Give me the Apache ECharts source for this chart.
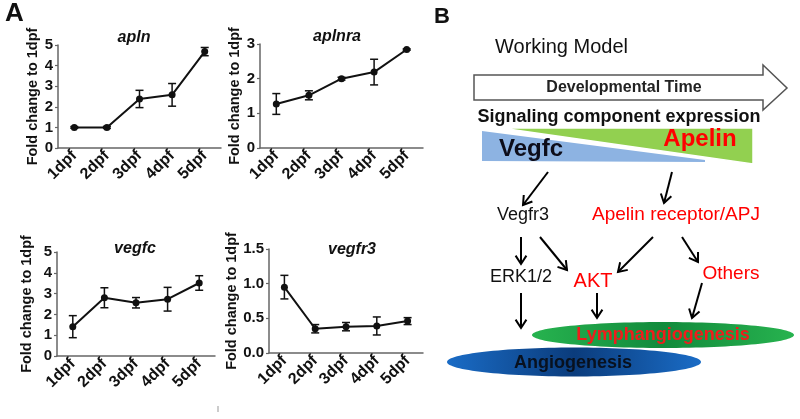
<!DOCTYPE html>
<html>
<head>
<meta charset="utf-8">
<script src="https://cdn.jsdelivr.net/npm/echarts@6/dist/echarts.min.js"></script>
<style>html,body{margin:0;padding:0;background:#fff;}#c{width:800px;height:419px;}</style>
</head>
<body>
<div id="c"></div>
<script>
// ---- data ----
const categories = ['1dpf', '2dpf', '3dpf', '4dpf', '5dpf'];
const aplnMean = [1.0, 1.0, 2.38, 2.58, 4.68];
const aplnErr = [0.04, 0.05, 0.42, 0.55, 0.2];
const aplnraMean = [1.27, 1.52, 2.0, 2.19, 2.84];
const aplnraErr = [0.3, 0.13, 0.04, 0.37, 0.02];
const vegfcMean = [1.41, 2.80, 2.56, 2.73, 3.51];
const vegfcErr = [0.53, 0.48, 0.25, 0.57, 0.35];
const vegfr3Mean = [0.95, 0.35, 0.38, 0.39, 0.46];
const vegfr3Err = [0.17, 0.06, 0.06, 0.13, 0.05];
const panelTitles = ['apln', 'aplnra', 'vegfc', 'vegfr3'];
const yMax = [5, 3, 5, 1.5];
const yStep = [1, 1, 1, 0.5];
const yAxisName = 'Fold change to 1dpf';

const FONT = "'Liberation Sans', Arial, sans-serif";
const chart = echarts.init(document.getElementById('c'), null, {renderer: 'canvas'});

const means = [aplnMean, aplnraMean, vegfcMean, vegfr3Mean];
const errs = [aplnErr, aplnraErr, vegfcErr, vegfr3Err];

const grids = [
  {left: 58, top: 45, width: 163, height: 103},
  {left: 260, top: 44, width: 163, height: 104},
  {left: 57, top: 252, width: 158, height: 104},
  {left: 269, top: 249, width: 154, height: 104}
];
const nameGaps = [13, 15, 23, 27];
const titlePos = [[134, 30], [337, 29], [135, 241], [352, 242]];

const axisColor = '#666';
const xAxes = [], yAxes = [], series = [], titles = [];
for (let i = 0; i < 4; i++) {
  xAxes.push({
    type: 'category', gridIndex: i, data: categories, boundaryGap: true,
    axisLine: {lineStyle: {color: axisColor, width: 1.5}},
    axisTick: {alignWithLabel: true, length: 3, lineStyle: {color: axisColor, width: 1.2}},
    axisLabel: {rotate: 45, margin: 5, color: '#111', fontFamily: FONT, fontWeight: 'bold', fontSize: 16, interval: 0},
    splitLine: {show: false}
  });
  yAxes.push({
    type: 'value', gridIndex: i, min: 0, max: yMax[i], interval: yStep[i],
    name: yAxisName, nameLocation: 'middle', nameRotate: 90, nameGap: nameGaps[i],
    nameTextStyle: {fontFamily: FONT, fontWeight: 'bold', fontSize: 14.5, color: '#111'},
    axisLine: {show: true, lineStyle: {color: axisColor, width: 1.5}},
    axisTick: {show: true, length: 3, lineStyle: {color: axisColor, width: 1.2}},
    axisLabel: {margin: 5, color: '#111', fontFamily: FONT, fontWeight: 'bold', fontSize: 15,
      formatter: yStep[i] < 1 ? (v => v.toFixed(1)) : (v => String(v))},
    splitLine: {show: false}
  });
  series.push({
    type: 'line', xAxisIndex: i, yAxisIndex: i, data: means[i],
    symbol: 'circle', symbolSize: 7, itemStyle: {color: '#111'},
    lineStyle: {color: '#111', width: 2}, z: 3, animation: false
  });
  series.push({
    type: 'custom', xAxisIndex: i, yAxisIndex: i,
    data: means[i].map((m, k) => [k, m - errs[i][k], m + errs[i][k]]),
    renderItem: function (params, api) {
      const x = api.value(0);
      const lo = api.coord([x, api.value(1)]);
      const hi = api.coord([x, api.value(2)]);
      const w = 4;
      const st = {stroke: '#111', lineWidth: 1.5};
      return {type: 'group', children: [
        {type: 'line', shape: {x1: lo[0], y1: lo[1], x2: hi[0], y2: hi[1]}, style: st},
        {type: 'line', shape: {x1: lo[0] - w, y1: lo[1], x2: lo[0] + w, y2: lo[1]}, style: st},
        {type: 'line', shape: {x1: hi[0] - w, y1: hi[1], x2: hi[0] + w, y2: hi[1]}, style: st}
      ]};
    },
    z: 4, animation: false
  });
  titles.push({
    text: panelTitles[i], left: titlePos[i][0], top: titlePos[i][1], textAlign: 'center', padding: 0,
    textStyle: {fontFamily: FONT, fontStyle: 'italic', fontWeight: 'bold', fontSize: 16, color: '#111'}
  });
}

// ---- diagram helpers ----
function txt(text, x, y, size, opts) {
  opts = opts || {};
  return {type: 'text', z: 20, style: {
    text: text, x: x, y: y,
    font: (opts.italic ? 'italic ' : '') + (opts.bold ? 'bold ' : '') + size + 'px ' + FONT,
    fill: opts.color || '#111',
    align: opts.align || 'center', verticalAlign: 'middle',
    textAlign: opts.align || 'center', textVerticalAlign: 'middle'
  }};
}
function arrow(x1, y1, x2, y2) {
  const a = Math.atan2(y2 - y1, x2 - x1), L = 10, s = Math.PI / 5.5;
  return {type: 'group', z: 15, children: [
    {type: 'line', shape: {x1: x1, y1: y1, x2: x2, y2: y2}, style: {stroke: '#000', lineWidth: 2}},
    {type: 'polyline', shape: {points: [
      [x2 - L * Math.cos(a - s), y2 - L * Math.sin(a - s)], [x2, y2],
      [x2 - L * Math.cos(a + s), y2 - L * Math.sin(a + s)]]},
      style: {stroke: '#000', lineWidth: 2, fill: null}}
  ]};
}
const RED = '#f00';
const graphics = [
  txt('A', 5, 14, 26, {bold: true, align: 'left'}),
  txt('B', 434, 17, 22, {bold: true, align: 'left'}),
  txt('Working Model', 495, 47, 20, {align: 'left'}),
  {type: 'polygon', z: 10, shape: {points: [[474, 75], [763, 75], [763, 65], [787, 88], [763, 110], [763, 100], [474, 100]]},
    style: {fill: '#fff', stroke: '#555', lineWidth: 1.5}},
  txt('Developmental Time', 624, 88, 16, {bold: true, color: '#222'}),
  txt('Signaling component expression', 619, 117, 18, {bold: true}),
  {type: 'polygon', z: 10, shape: {points: [[482, 131], [705, 160], [705, 162], [482, 161]]},
    style: {fill: '#8db3e2'}},
  {type: 'polygon', z: 11, shape: {points: [[501, 128], [753, 128], [753, 164]]},
    style: {fill: '#92d050', stroke: '#fff', lineWidth: 1.5}},
  txt('Vegfc', 531, 149, 24, {bold: true, color: '#0d0d1a'}),
  txt('Apelin', 700, 139, 24, {bold: true, color: RED}),
  arrow(548, 172, 523, 205),
  arrow(672, 172, 664, 203),
  txt('Vegfr3', 523, 215, 18),
  txt('Apelin receptor/APJ', 676, 215, 19, {color: RED}),
  arrow(521, 237, 521, 264),
  arrow(540, 237, 567, 270),
  arrow(653, 237, 618, 272),
  arrow(682, 237, 698, 262),
  txt('ERK1/2', 521, 277, 18),
  txt('AKT', 593, 281, 20, {color: RED}),
  txt('Others', 731, 274, 19, {color: RED}),
  arrow(521, 293, 521, 328),
  arrow(597, 293, 597, 318),
  arrow(702, 283, 692, 318),
  {type: 'ellipse', z: 10, shape: {cx: 663, cy: 335, rx: 131, ry: 13},
    style: {fill: {type: 'linear', x: 0, y: 0, x2: 1, y2: 0, colorStops: [
      {offset: 0, color: '#27b34f'}, {offset: 0.5, color: '#128a3c'}, {offset: 1, color: '#27b34f'}]}}},
  txt('Lymphangiogenesis', 663, 335, 18, {bold: true, color: '#f01c1c'}),
  {type: 'ellipse', z: 12, shape: {cx: 574, cy: 362, rx: 127, ry: 14.5},
    style: {fill: {type: 'linear', x: 0, y: 0, x2: 1, y2: 0, colorStops: [
      {offset: 0, color: '#1a6cc6'}, {offset: 0.5, color: '#0b3c7c'}, {offset: 1, color: '#1a6cc6'}]}}},
  txt('Angiogenesis', 573, 363, 18, {bold: true, color: '#08111f'}),
  {type: 'line', z: 5, shape: {x1: 218, y1: 406, x2: 218, y2: 412}, style: {stroke: '#999', lineWidth: 1}}
];

chart.setOption({
  backgroundColor: '#fff',
  animation: false,
  title: titles,
  grid: grids,
  xAxis: xAxes,
  yAxis: yAxes,
  series: series,
  graphic: graphics
});
</script>
</body>
</html>
